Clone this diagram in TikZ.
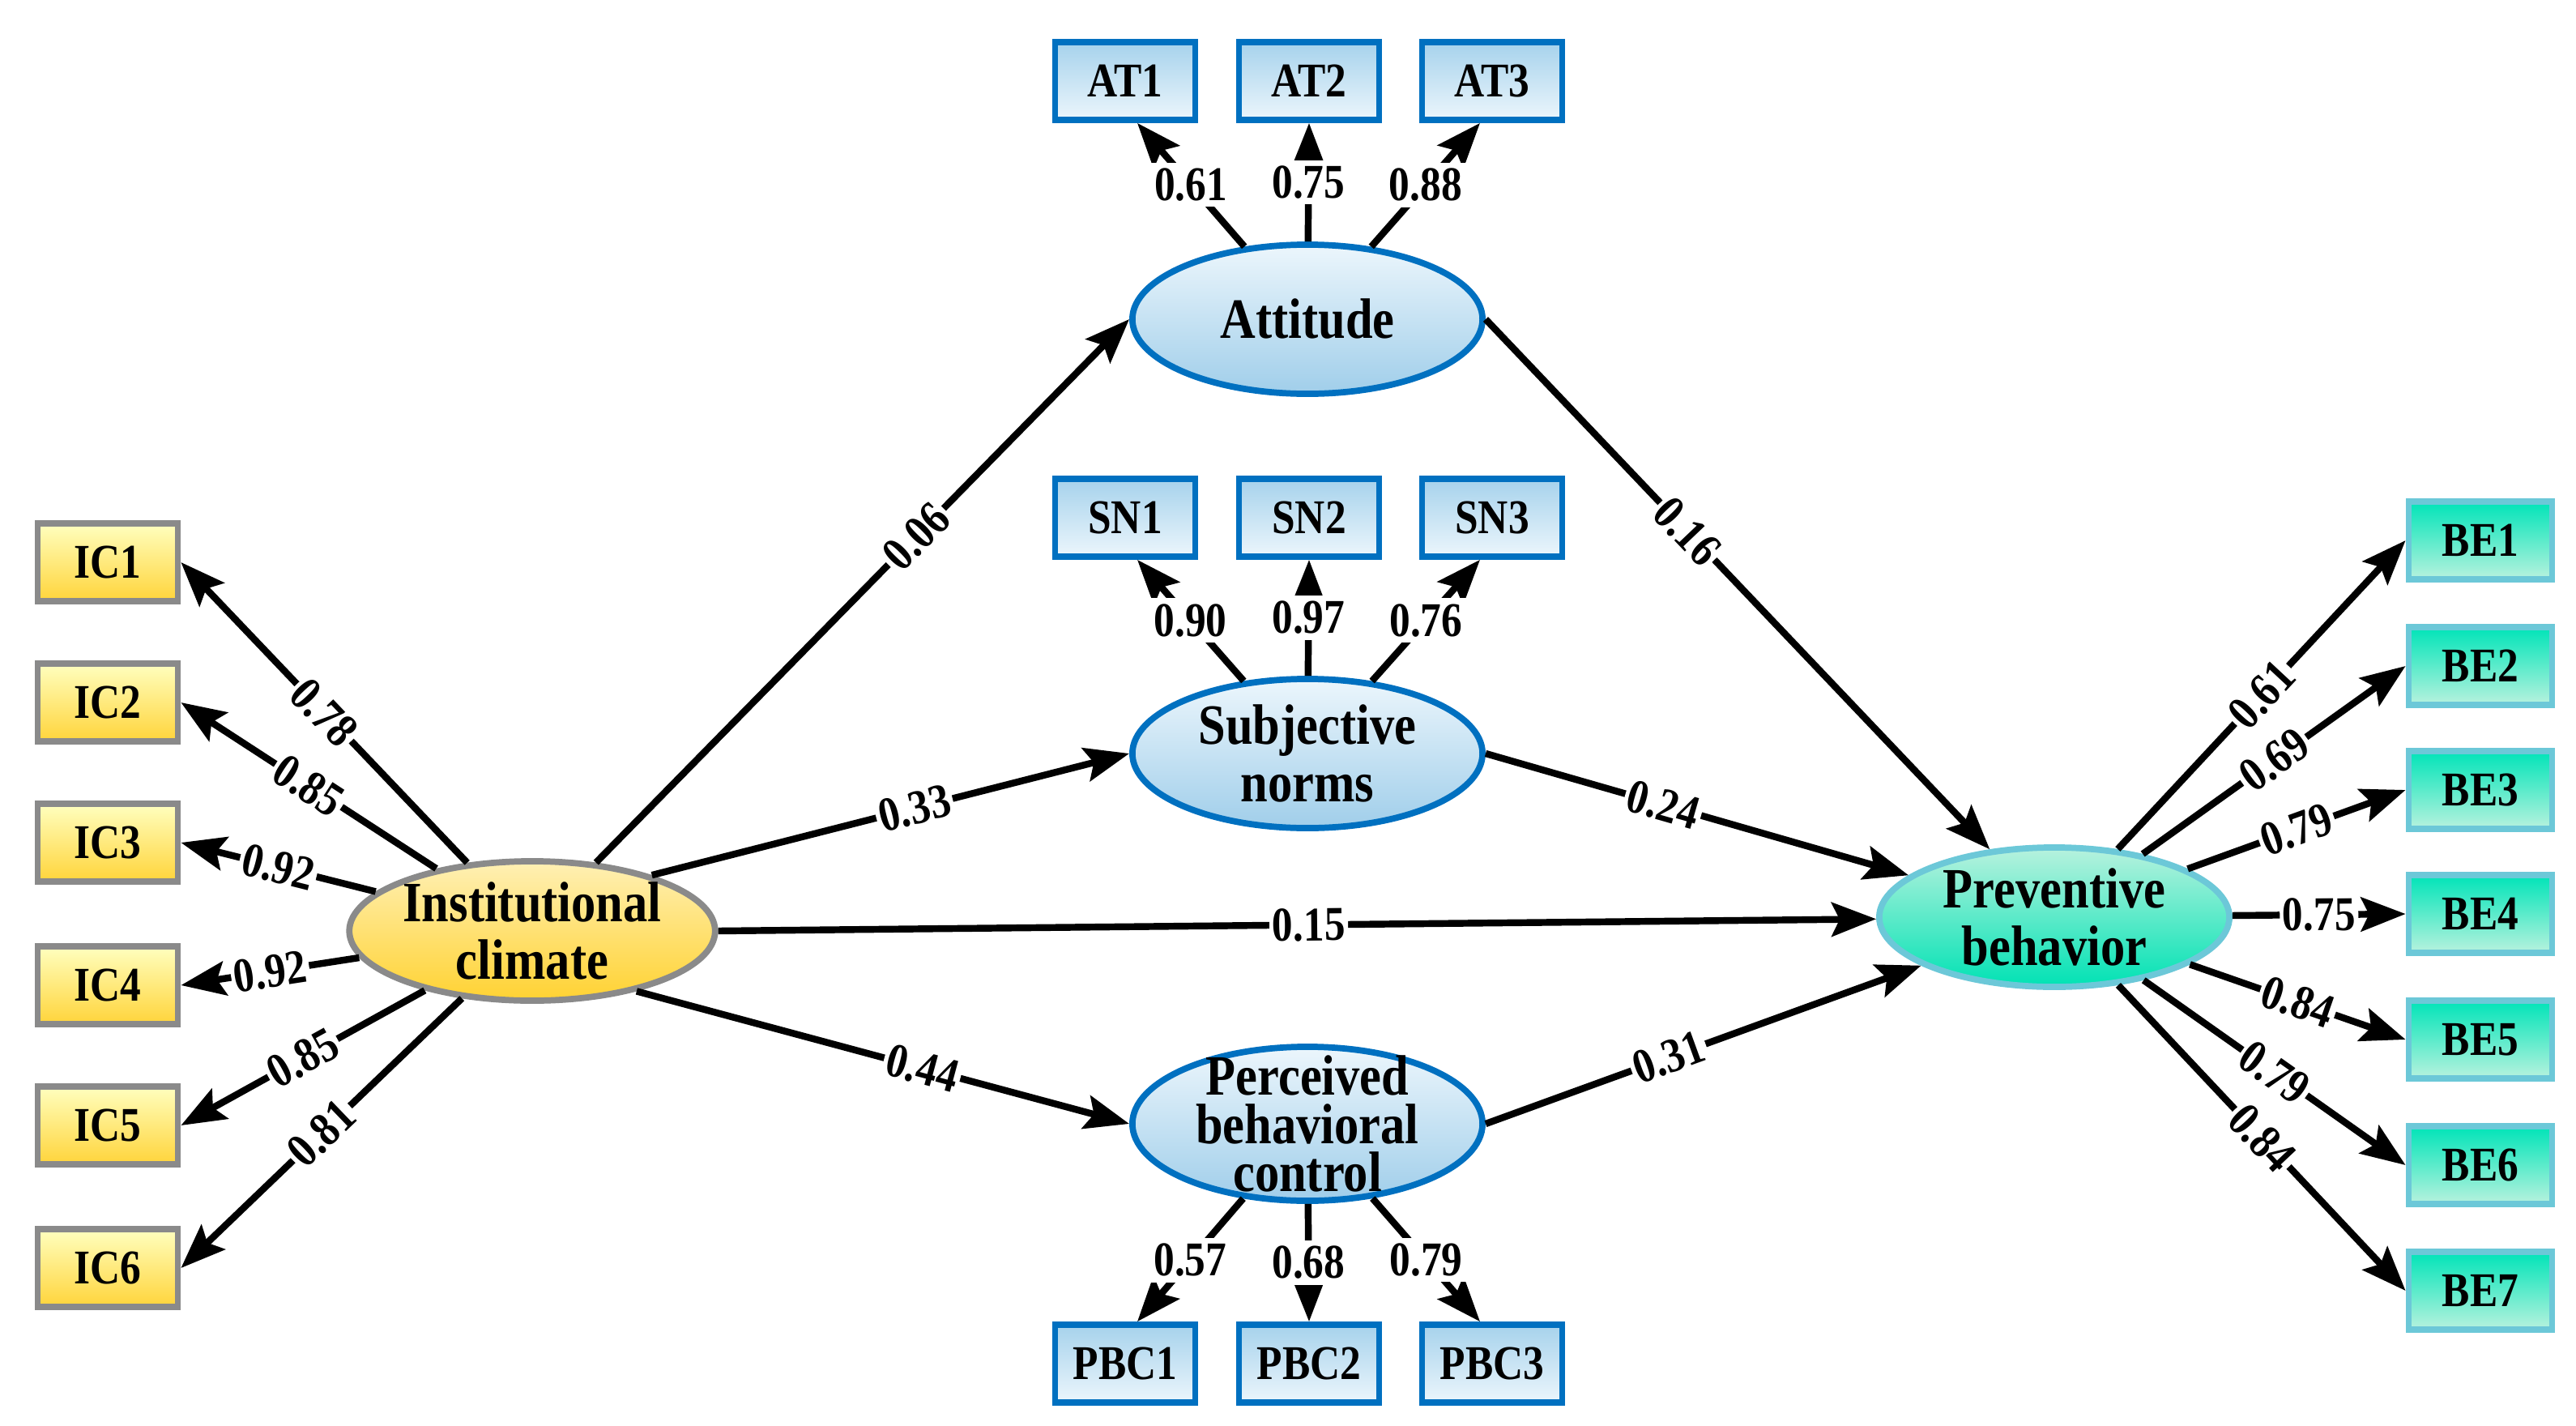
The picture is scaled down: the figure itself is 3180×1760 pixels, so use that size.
\documentclass[tikz,border=0pt]{standalone}
\usepackage{fontspec}
\setmainfont{Liberation Serif}[FakeStretch=0.86]
\usetikzlibrary{arrows.meta,shapes.geometric}
\definecolor{ylb}{HTML}{8A8A8A}
\definecolor{blb}{HTML}{0070C0}
\definecolor{grb}{HTML}{6CC8D8}
\begin{document}
\begin{tikzpicture}[x=0.01cm,y=-0.01cm,
  font=\bfseries\fontsize{17}{19}\selectfont,
  box/.style={rectangle,minimum width=1.73cm,minimum height=0.96cm,line width=2.2pt,inner sep=0pt},
  ybox/.style={box,draw=ylb,top color=yellow!25!white,bottom color={rgb,255:red,255;green,212;blue,58}},
  bbox/.style={box,draw=blb,top color={rgb,255:red,166;green,210;blue,236},bottom color={rgb,255:red,236;green,246;blue,252}},
  gbox/.style={box,minimum width=1.77cm,draw=grb,top color={rgb,255:red,0;green,228;blue,184},bottom color={rgb,255:red,184;green,242;blue,222}},
  lat/.style={ellipse,minimum width=4.32cm,minimum height=1.84cm,line width=2.2pt,inner sep=0pt,align=center,font=\bfseries\fontsize{20}{22}\selectfont},
  ylat/.style={lat,draw=ylb,top color={rgb,255:red,255;green,240;blue,180},bottom color={rgb,255:red,255;green,210;blue,50},minimum height=1.72cm},
  blat/.style={lat,draw=blb,top color={rgb,255:red,236;green,246;blue,252},bottom color={rgb,255:red,160;green,206;blue,234}},
  glat/.style={lat,draw=grb,top color={rgb,255:red,184;green,242;blue,222},bottom color={rgb,255:red,0;green,226;blue,180},minimum height=1.72cm},
  arr/.style={line width=2.4pt,-{Stealth[length=0.55cm,width=0.42cm,inset=0.1cm]}},
  lb/.style={fill=white,inner sep=1pt,sloped},
  ulb/.style={fill=white,inner sep=2pt}]
\useasboundingbox (0,0) rectangle (3180,1760);
% latent
\node[ylat] (ic) at (657,1149) {Institutional\\[-2pt]climate};
\node[blat] (att) at (1614,394) {Attitude};
\node[blat] (sn) at (1614,930) {Subjective\\[-2pt]norms};
\node[blat,minimum height=1.9cm,inner ysep=-8pt] (pbc) at (1614,1387) {Perceived\\[-5pt]behavioral\\[-5pt]control};
\node[glat] (pb) at (2536,1132) {Preventive\\[-2pt]behavior};
% indicators
\foreach \i/\y in {1/694,2/867,3/1040,4/1216,5/1389,6/1565} \node[ybox] (IC\i) at (133,\y) {IC\i};
\foreach \i/\x in {1/1389,2/1616,3/1842} {
  \node[bbox] (AT\i) at (\x,100) {AT\i};
  \node[bbox] (SN\i) at (\x,639) {SN\i};
  \node[bbox] (PBC\i) at (\x,1683) {PBC\i};}
\foreach \i/\y in {1/667,2/822,3/975,4/1128,5/1283,6/1438,7/1593} \node[gbox] (BE\i) at (3062,\y) {BE\i};
% IC loadings
\foreach \i/\v in {1/0.78,2/0.85,3/0.92,4/0.92,5/0.85,6/0.81}
  \draw[arr] (ic) -- node[lb]{\v} (IC\i.east);
\foreach \i/\v in {1/0.61,2/0.69,3/0.79,4/0.75,5/0.84,6/0.79,7/0.84}
  \draw[arr] (pb) -- node[lb]{\v} (BE\i.west);
\draw[arr] (att) -- node[ulb]{0.61} ([xshift=0.15cm]AT1.south);
\draw[arr] (att) -- node[ulb]{0.75} (AT2.south);
\draw[arr] (att) -- node[ulb]{0.88} ([xshift=-0.15cm]AT3.south);
\draw[arr] (sn) -- node[ulb]{0.90} ([xshift=0.15cm]SN1.south);
\draw[arr] (sn) -- node[ulb]{0.97} (SN2.south);
\draw[arr] (sn) -- node[ulb]{0.76} ([xshift=-0.15cm]SN3.south);
\draw[arr] (pbc) -- node[ulb]{0.57} ([xshift=0.15cm]PBC1.north);
\draw[arr] (pbc) -- node[ulb]{0.68} (PBC2.north);
\draw[arr] (pbc) -- node[ulb]{0.79} ([xshift=-0.15cm]PBC3.north);
% structural
\draw[arr] (ic.47) -- node[lb,pos=0.6]{0.06} (att.west);
\draw[arr] (ic.25) -- node[lb,pos=0.55]{0.33} (sn.west);
\draw[arr] (ic.east) -- node[lb,pos=0.51]{0.15} (pb);
\draw[arr] (ic.-30) -- node[lb,pos=0.58]{0.44} (pbc.west);
\draw[arr] (att.east) -- node[lb,pos=0.4]{0.16} (pb);
\draw[arr] (sn.east) -- node[lb,pos=0.42]{0.24} (pb);
\draw[arr] (pbc.east) -- node[lb,pos=0.42]{0.31} (pb);
\end{tikzpicture}
\end{document}
